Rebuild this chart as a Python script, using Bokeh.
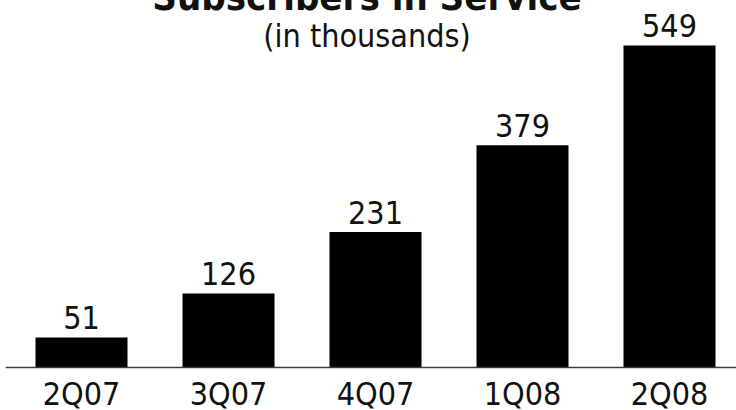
from bokeh.plotting import figure
from bokeh.models import Range1d, Span, Label, ColumnDataSource
from bokeh.core.properties import value
from bokeh.embed import file_html
from bokeh.resources import INLINE

# ---- data ----
quarters = ["2Q07", "3Q07", "4Q07", "1Q08", "2Q08"]
subscribers = [51, 126, 231, 379, 549]
title_text = "Subscribers in Service"
subtitle_text = "(in thousands)"

# ---- layout constants ----
FONT = "DejaVu Sans Condensed"
W, H = 731, 432
PX_PER_UNIT = 0.5865          # vertical pixels per thousand subscribers
PX_ABOVE_BASE = 389           # frame pixels above the zero line
PX_BELOW_BASE = 43            # frame pixels below the zero line
PX_PER_CAT = 147              # horizontal pixels per category
FIRST_CENTER_PX = 76          # first bar centre from the left frame edge
SVG_BASELINE_SHIFT = 0.31     # em shift of alphabetic baseline in svg output

xs = list(range(len(quarters)))
x_start = -FIRST_CENTER_PX / PX_PER_CAT
x_end = x_start + W / PX_PER_CAT
y_start = -PX_BELOW_BASE / PX_PER_UNIT
y_end = PX_ABOVE_BASE / PX_PER_UNIT

source = ColumnDataSource(dict(
    x=xs,
    top=subscribers,
    label=[str(v) for v in subscribers],
    cat=quarters,
    zero=[0] * len(xs),
))

p = figure(width=W, height=H, output_backend="svg", toolbar_location=None,
           x_range=Range1d(x_start, x_end), y_range=Range1d(y_start, y_end),
           x_axis_location=None, y_axis_location=None,
           min_border=0, margin=(-22, 0, 0, 5))
p.grid.visible = False
p.outline_line_color = None
p.background_fill_color = "white"
p.border_fill_color = "white"

p.vbar(x="x", top="top", bottom=0, width=92 / PX_PER_CAT, source=source,
       fill_color="black", line_color=None)

p.add_layout(Span(location=0, dimension="width", line_color="#3c3c3c", line_width=1.5))

p.text(x="x", y="top", text="label", source=source, y_offset=-10 - 32 * SVG_BASELINE_SHIFT,
       text_align="center", text_baseline="alphabetic",
       text_font=value(FONT), text_font_size="32px", text_color="#111111")

p.text(x="x", y="zero", text="cat", source=source, y_offset=36 - 32 * SVG_BASELINE_SHIFT,
       text_align="center", text_baseline="alphabetic",
       text_font=value(FONT), text_font_size="32px", text_color="#111111")

x_center = (x_start + x_end) / 2 - 4 / PX_PER_CAT
p.add_layout(Label(x=x_center, y=(359 + 38 * SVG_BASELINE_SHIFT) / PX_PER_UNIT, text=title_text,
                   text_align="center", text_baseline="alphabetic",
                   text_font=FONT, text_font_size="38px", text_font_style="bold",
                   text_color="#111111"))
p.add_layout(Label(x=x_center, y=(322 + 32 * SVG_BASELINE_SHIFT) / PX_PER_UNIT, text=subtitle_text,
                   text_align="center", text_baseline="alphabetic",
                   text_font=FONT, text_font_size="32px",
                   text_color="#111111"))

open("out.html", "w").write(file_html(p, INLINE))
